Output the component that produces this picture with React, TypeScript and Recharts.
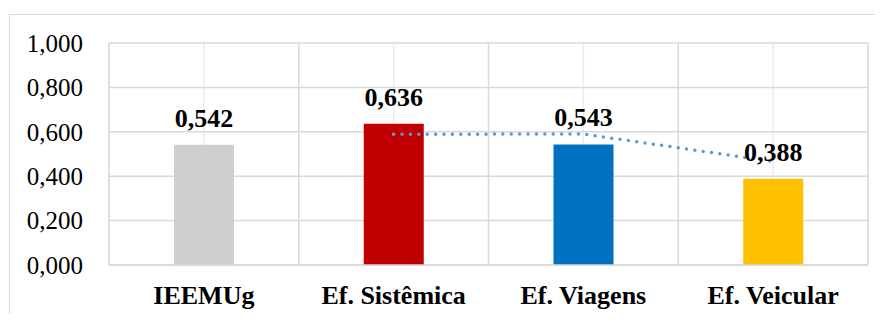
import { Bar, CartesianGrid, Cell, ComposedChart, LabelList, Line, XAxis, YAxis } from "recharts"

const categories = ["IEEMUg", "Ef. Sistêmica", "Ef. Viagens", "Ef. Veicular"]
const values = [0.542, 0.636, 0.543, 0.388]
// 2-period moving average line
const movingAvg: (number | null)[] = [null, 0.589, 0.59, 0.466]
const yTicks = [0, 0.2, 0.4, 0.6, 0.8, 1]

const colors = ["#D0CECE", "#C00000", "#0070C0", "#FFC000"]
const font = "Liberation Serif, serif"

const data = categories.map((name, i) => ({ name, value: values[i], avg: movingAvg[i] }))

const fmt = (v: number) => v.toFixed(3).replace(".", ",")

export default function App() {
  return (
    <div
      style={{
        position: "relative",
        width: 883,
        height: 322,
        margin: -8,
        overflow: "hidden",
        background: "#fff",
      }}
    >
      <div
        style={{
          position: "absolute",
          left: 9,
          top: 14,
          width: 900,
          height: 330,
          border: "1px solid #d9d9d9",
        }}
      />
      <ComposedChart
        width={883}
        height={322}
        data={data}
        margin={{ top: 43, right: 15, bottom: 0, left: 0 }}
        style={{ position: "absolute", left: 0, top: 0 }}
      >
        <CartesianGrid horizontal={false} stroke="#ececec" strokeWidth={1.5} />
        <CartesianGrid
          stroke="#d9d9d9"
          strokeWidth={1.5}
          verticalCoordinatesGenerator={({ offset }: any) =>
            [0, 1, 2, 3, 4].map((i) => offset.left + (offset.width * i) / 4)
          }
        />
        <XAxis
          dataKey="name"
          height={57}
          tickLine={false}
          tickMargin={15}
          axisLine={{ stroke: "#d9d9d9", strokeWidth: 1.5 }}
          tick={{ fill: "#000", fontSize: 26, fontWeight: "bold", fontFamily: font }}
          interval={0}
        />
        <YAxis
          width={109}
          domain={[0, 1]}
          ticks={yTicks}
          tickFormatter={fmt}
          axisLine={false}
          tickLine={false}
          tickMargin={20}
          tick={{ fill: "#000", fontSize: 25, fontFamily: font }}
        />
        <Bar dataKey="value" barSize={60} isAnimationActive={false}>
          {data.map((d, i) => (
            <Cell key={d.name} fill={colors[i]} />
          ))}
          <LabelList
            dataKey="value"
            position="top"
            offset={18}
            formatter={(v: any) => fmt(Number(v))}
            fill="#000"
            fontSize={26}
            fontWeight="bold"
            fontFamily={font}
          />
        </Bar>
        <Line
          dataKey="avg"
          type="linear"
          stroke="#5B9BD5"
          strokeWidth={3.5}
          strokeDasharray="0 8.4"
          strokeLinecap="round"
          dot={false}
          activeDot={false}
          isAnimationActive={false}
        />
      </ComposedChart>
    </div>
  )
}
